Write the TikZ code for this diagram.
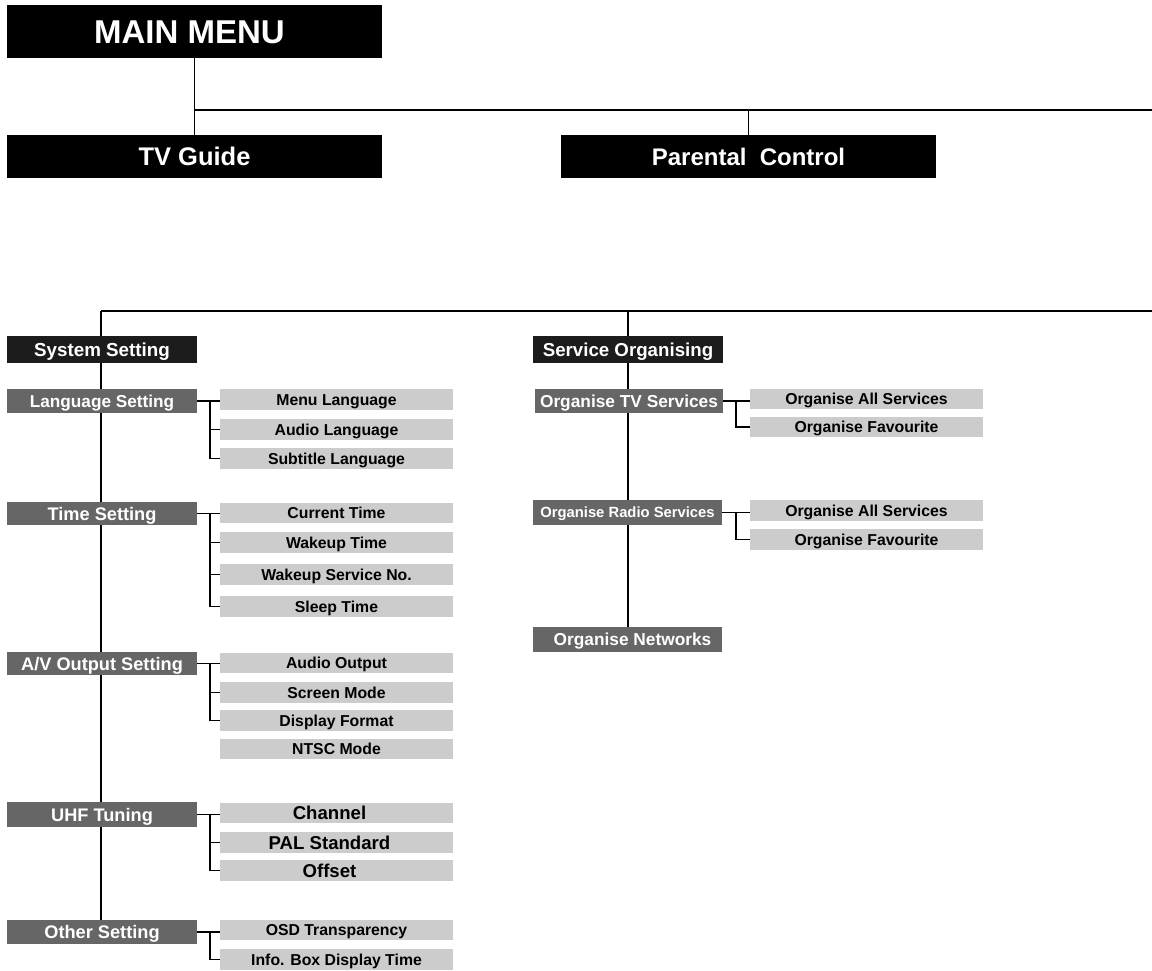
\documentclass[tikz,border=0pt]{standalone}
\usepackage{fontspec}
\setmainfont{Liberation Sans}
\usetikzlibrary{backgrounds,calc}
\definecolor{dk}{HTML}{1C1C1C}
\definecolor{md}{HTML}{666666}
\definecolor{lt}{HTML}{CCCCCC}
\tikzset{
 fs/.style={font=\bfseries\fontsize{#1}{#1}\selectfont, text height=0.72*#1pt, text depth=0pt},
 box/.style={anchor=north west, inner sep=0pt, outer sep=0pt},
 topbox/.style={box, fill=black, text=white, minimum width=375pt},
 hdr/.style={box, fill=dk, text=white, minimum width=190pt, minimum height=27pt, fs=18.8},
 midbox/.style={box, fill=md, text=white, minimum width=190pt, minimum height=24pt, fs=18.2},
 leaf/.style={box, fill=lt, text=black, minimum width=233pt, minimum height=21pt, fs=15.8},
 bigleaf/.style={leaf, fs=18.6},
 ln/.style={line width=1.8pt, black},
}
\newcommand\padr[1]{\rule{#1}{0pt}}
\begin{document}
\begin{tikzpicture}[x=1pt,y=-1pt]
\useasboundingbox (0,0) rectangle (1152,970);
% top level
\node[topbox, minimum height=53pt, fs=33] (mm) at (7,5) {MAIN MENU\padr{10pt}};
\node[topbox, minimum height=43pt, fs=25.5] (tv) at (7,135) {TV Guide};
\node[topbox, minimum height=43pt, fs=24] (pc) at (561,135) {Parental\hspace{0.55em}Control};
% system setting column
\node[hdr] (ss) at (7,336) {System Setting};
\node[midbox, fs=17.2] (ls) at (7,389) {Language Setting};
\node[leaf] (ml) at (220,389) {Menu Language};
\node[leaf] (al) at (220,419) {Audio Language};
\node[leaf] (sl) at (220,448) {Subtitle Language};
\node[midbox, minimum height=23pt] (ts) at (7,502) {Time Setting};
\node[leaf, minimum height=20pt] (ct) at (220,503) {Current Time};
\node[leaf] (wt) at (220,532) {Wakeup Time};
\node[leaf] (ws) at (220,564) {Wakeup Service No.};
\node[leaf] (st) at (220,596) {Sleep Time};
\node[midbox, minimum height=23pt] (av) at (7,652) {A/V Output Setting};
\node[leaf, minimum height=20pt] (ao) at (220,653) {Audio Output};
\node[leaf] (sm) at (220,682) {Screen Mode};
\node[leaf] (df) at (220,710) {Display Format};
\node[leaf, minimum height=20pt] (nt) at (220,739) {NTSC Mode};
\node[midbox, minimum height=25pt] (uh) at (7,802) {UHF Tuning};
\node[bigleaf, minimum height=20pt] (ch) at (220,803) {Channel\padr{14pt}};
\node[bigleaf] (ps) at (220,832) {PAL Standard\padr{14pt}};
\node[bigleaf] (of) at (220,860) {Offset\padr{14pt}};
\node[midbox] (ot) at (7,920) {Other Setting};
\node[leaf, minimum height=20pt] (osd) at (220,920) {OSD Transparency};
\node[leaf] (ib) at (220,949) {Info. Box Display Time};
% service organising column
\node[hdr, fs=18.7] (so) at (533,336) {Service Organising};
\node[midbox, minimum width=188pt, fs=17.3] (otv) at (535,389) {Organise TV Services};
\node[leaf, minimum height=20pt] (oa1) at (750,389) {Organise All Services};
\node[leaf, minimum height=20pt] (of1) at (750,417) {Organise Favourite};
\node[midbox, minimum width=189pt, minimum height=25pt, fs=14.8] (orad) at (533,500) {Organise Radio Services};
\node[leaf] (oa2) at (750,500) {Organise All Services};
\node[leaf] (of2) at (750,529) {Organise Favourite};
\node[midbox, minimum width=189pt, minimum height=25pt, fs=17.3] (onet) at (533,627) {\hspace{10pt}Organise Networks};
% connectors
\begin{scope}[on background layer]
\draw[ln] (mm.south) -- (tv.north);
\coordinate (j1) at (194.5,110);
\coordinate (r1) at (1152,110);
\draw[ln] (j1) -- (r1);
\draw[ln] (pc.north) -- (pc.north |- j1);
\coordinate (j2) at (101,311);
\coordinate (r2) at (1152,311);
\draw[ln] (j2) -- (r2);
\draw[ln] (j2) -- (j2 |- ot.north);
\coordinate (j3) at (628,311);
\draw[ln] (j3) -- (j3 |- onet.north);
% language
\draw[ln] (ls.east) -- (ls.east -| ml.west);
\draw[ln] ($(ls.east -| ml.west)+(-10,0)$) |- (sl.west);
\draw[ln] ($(al.west)+(-10,0)$) -- (al.west);
% time
\draw[ln] (ts.east) -- (ts.east -| ct.west);
\draw[ln] ($(ts.east -| ct.west)+(-10,0)$) |- (st.west);
\draw[ln] ($(wt.west)+(-10,0)$) -- (wt.west);
\draw[ln] ($(ws.west)+(-10,0)$) -- (ws.west);
% av
\draw[ln] (av.east) -- (av.east -| ao.west);
\draw[ln] ($(av.east -| ao.west)+(-10,0)$) |- (df.west);
\draw[ln] ($(sm.west)+(-10,0)$) -- (sm.west);
% uhf
\draw[ln] (uh.east) -- (uh.east -| ch.west);
\draw[ln] ($(uh.east -| ch.west)+(-10,0)$) |- (of.west);
\draw[ln] ($(ps.west)+(-10,0)$) -- (ps.west);
% other
\draw[ln] (ot.east) -- (ot.east -| osd.west);
\draw[ln] ($(ot.east -| osd.west)+(-10,0)$) |- (ib.west);
% tv services
\draw[ln] (otv.east) -- (otv.east -| oa1.west);
\draw[ln] ($(otv.east -| oa1.west)+(-14,0)$) |- (of1.west);
% radio services
\draw[ln] (orad.east) -- (orad.east -| oa2.west);
\draw[ln] ($(orad.east -| oa2.west)+(-14,0)$) |- (of2.west);
\end{scope}
\end{tikzpicture}
\end{document}
